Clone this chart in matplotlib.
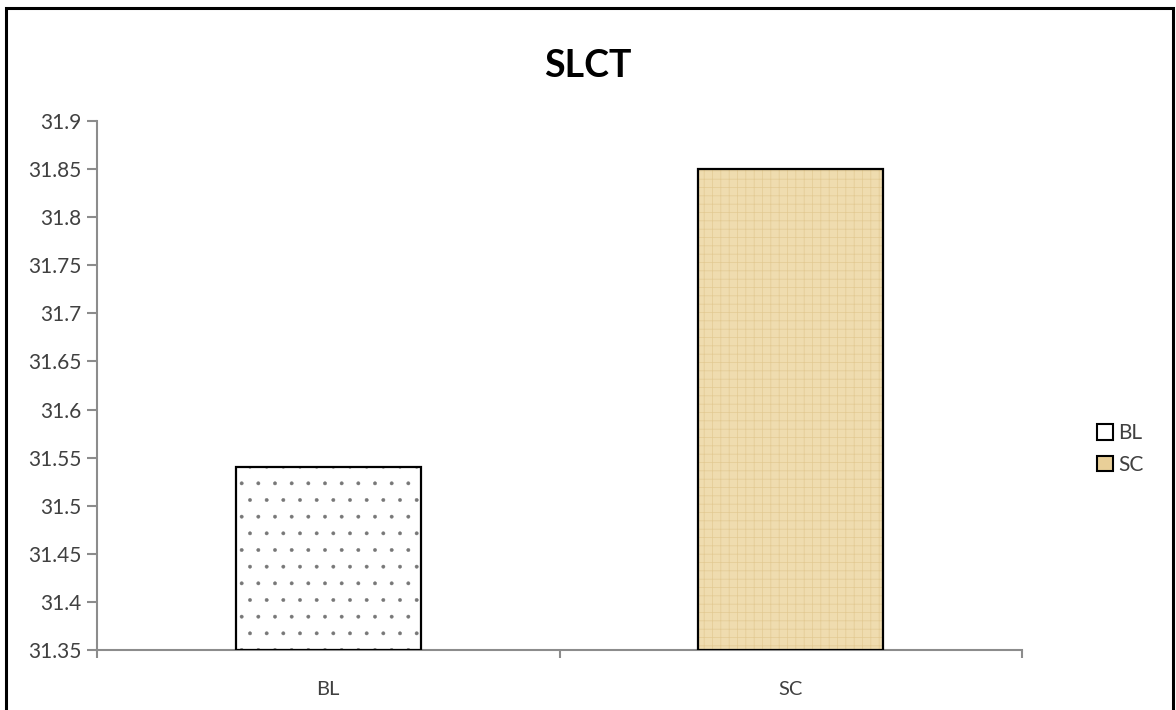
import matplotlib
matplotlib.use("Agg")
import matplotlib.pyplot as plt
from matplotlib.patches import Rectangle
import numpy as np

categories = ["BL", "SC"]
values = [31.54, 31.85]
title = "SLCT"
y_ticks = [31.35, 31.4, 31.45, 31.5, 31.55, 31.6, 31.65, 31.7, 31.75, 31.8, 31.85, 31.9]
y_tick_labels = ["31.35", "31.4", "31.45", "31.5", "31.55", "31.6", "31.65", "31.7", "31.75", "31.8", "31.85", "31.9"]

plt.rcParams['font.family'] = ['Lato', 'DejaVu Sans']

W, H = 1176, 710
fig = plt.figure(figsize=(W / 100, H / 100), dpi=100)
ax = fig.add_axes([97 / W, (H - 650) / H, (1022 - 97) / W, (650 - 121) / H])

x = np.arange(len(categories))
bw = 0.40
ymin = 31.35
heights = [v - ymin for v in values]

# BL: white with sparse dotted pattern
with plt.rc_context({'hatch.linewidth': 0.3}):
    b1 = ax.bar(x[0], heights[0], bottom=ymin, width=bw, color="white",
                edgecolor="#777777", hatch=".", linewidth=0, zorder=2)
# SC: papyrus-like beige with light weave
with plt.rc_context({'hatch.linewidth': 0.5}):
    b2 = ax.bar(x[1], heights[1], bottom=ymin, width=bw, color="#EFDCAF",
                edgecolor="#E3CA93", hatch="++", linewidth=0, zorder=2)
for p in b1:
    if hasattr(p, "set_hatch_linewidth"):
        p.set_hatch_linewidth(0.3)
for p in b2:
    if hasattr(p, "set_hatch_linewidth"):
        p.set_hatch_linewidth(0.5)
# outlines
ax.bar(x, heights, bottom=ymin, width=bw, fill=False,
       edgecolor="black", linewidth=1.6, zorder=3)

ax.set_xlim(-0.5, 1.5)
ax.set_ylim(31.35, 31.9)
ax.set_yticks(y_ticks)
ax.set_yticklabels(y_tick_labels)

ax.set_xticks([-0.5, 0.5, 1.5])
ax.set_xticklabels([])
ax.set_xticks(x, minor=True)
ax.set_xticklabels(categories, minor=True)
ax.tick_params(axis="x", which="minor", length=0, pad=22, labelsize=14.5, labelcolor="#404040")
ax.tick_params(axis="x", which="major", length=6, width=1.5, color="#8C8C8C", direction="out")
ax.tick_params(axis="y", length=7, width=1.5, color="#8C8C8C", direction="out",
               pad=4, labelsize=15, labelcolor="#404040")

for s in ["top", "right"]:
    ax.spines[s].set_visible(False)
for s in ["left", "bottom"]:
    ax.spines[s].set_color("#8C8C8C")
    ax.spines[s].set_linewidth(1.5)

fig.text(588 / W, 1 - 66 / H, title, ha="center", va="center",
         fontsize=27, fontweight="bold", color="black")

handles = [
    Rectangle((0, 0), 1, 1, facecolor="white", edgecolor="black", linewidth=1.5),
    Rectangle((0, 0), 1, 1, facecolor="#E9CF98", edgecolor="black", linewidth=1.5),
]
fig.legend(handles, categories, loc="center left", bbox_to_anchor=(1097 / W, 1 - 449 / H),
           frameon=False, fontsize=15, handlelength=0.75, handleheight=0.75,
           handletextpad=0.25, labelspacing=0.55, labelcolor="#404040",
           borderaxespad=0, borderpad=0)

# outer frame
fig.patches.append(Rectangle((6 / W, -0.05), (1173 - 6) / W, 1.05 - 8 / H,
                             transform=fig.transFigure, fill=False,
                             edgecolor="black", linewidth=2.2, clip_on=False))

fig.savefig("out.png", dpi=100)
